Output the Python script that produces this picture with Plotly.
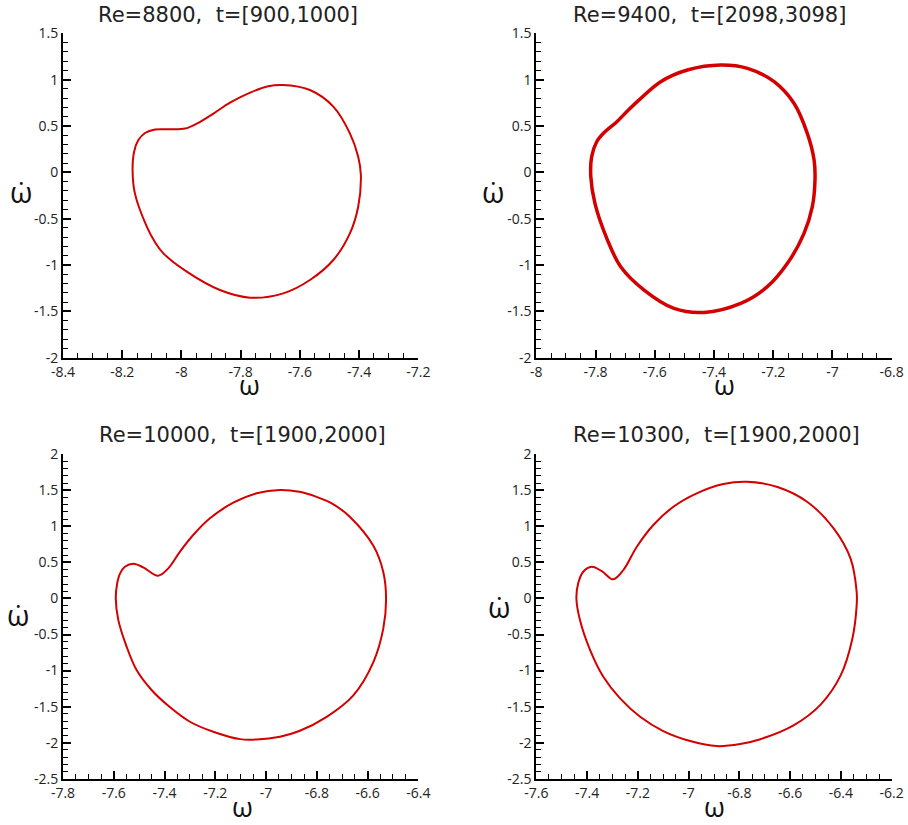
import plotly.graph_objects as go

# ---- data ----
titles = ["Re=8800,  t=[900,1000]", "Re=9400,  t=[2098,3098]",
          "Re=10000,  t=[1900,2000]", "Re=10300,  t=[1900,2000]"]

w1 = [-8.165, -8.160, -8.146, -8.123, -8.089, -8.039, -7.988, -7.948, -7.892, -7.836, -7.768, -7.707,
      -7.658, -7.566, -7.487, -7.431, -7.403, -7.394, -7.403, -7.431, -7.487, -7.566, -7.656, -7.768,
      -7.870, -7.982, -8.061, -8.090, -8.117, -8.157, -8.165]
wd1 = [0.020, 0.220, 0.345, 0.424, 0.461, 0.464, 0.472, 0.526, 0.634, 0.752, 0.860, 0.928,
       0.942, 0.888, 0.709, 0.421, 0.169, -0.029, -0.371, -0.658, -0.946, -1.162, -1.306, -1.353,
       -1.270, -1.072, -0.874, -0.750, -0.586, -0.230, 0.020]

w2 = [-7.816, -7.813, -7.796, -7.768, -7.728, -7.689, -7.650, -7.580, -7.490, -7.377, -7.287, -7.197,
      -7.130, -7.085, -7.062, -7.059, -7.068, -7.096, -7.152, -7.220, -7.310, -7.434, -7.535, -7.636,
      -7.715, -7.762, -7.802, -7.816]
wd2 = [-0.047, 0.169, 0.330, 0.438, 0.546, 0.673, 0.790, 0.978, 1.104, 1.158, 1.122, 0.978,
       0.745, 0.421, 0.133, -0.083, -0.371, -0.658, -0.982, -1.234, -1.414, -1.511, -1.468, -1.270,
       -1.018, -0.712, -0.335, -0.047]

w3 = [-7.592, -7.587, -7.575, -7.556, -7.523, -7.484, -7.425, -7.385, -7.339, -7.287, -7.221, -7.129,
      -7.037, -6.945, -6.869, -6.801, -6.736, -6.669, -6.577, -6.538, -6.527, -6.538, -6.577, -6.656,
      -6.761, -6.869, -6.945, -7.037, -7.103, -7.208, -7.300, -7.378, -7.451, -7.510, -7.549, -7.582,
      -7.592]
wd3 = [0.000, 0.200, 0.349, 0.440, 0.482, 0.432, 0.316, 0.418, 0.650, 0.880, 1.112, 1.328,
       1.459, 1.505, 1.480, 1.410, 1.310, 1.130, 0.730, 0.367, -0.003, -0.419, -0.882, -1.344,
       -1.642, -1.839, -1.917, -1.956, -1.951, -1.849, -1.710, -1.510, -1.270, -0.993, -0.670, -0.300,
       0.000]

w4 = [-7.442, -7.435, -7.415, -7.382, -7.342, -7.297, -7.257, -7.204, -7.139, -7.060, -6.968, -6.863,
      -6.771, -6.650, -6.532, -6.428, -6.362, -6.338, -6.338, -6.355, -6.401, -6.480, -6.585, -6.721,
      -6.797, -6.889, -6.994, -7.100, -7.191, -7.270, -7.336, -7.388, -7.428, -7.442]
wd4 = [0.000, 0.210, 0.371, 0.440, 0.380, 0.265, 0.395, 0.718, 1.019, 1.273, 1.459, 1.588,
       1.620, 1.547, 1.339, 0.969, 0.552, 0.090, -0.095, -0.558, -1.067, -1.472, -1.756, -1.956,
       -2.020, -2.048, -1.978, -1.840, -1.641, -1.386, -1.086, -0.716, -0.300, 0.000]

xtick1 = [-8.4, -8.2, -8.0, -7.8, -7.6, -7.4, -7.2]
xtick2 = [-8.0, -7.8, -7.6, -7.4, -7.2, -7.0, -6.8]
xtick3 = [-7.8, -7.6, -7.4, -7.2, -7.0, -6.8, -6.6, -6.4]
xtick4 = [-7.6, -7.4, -7.2, -7.0, -6.8, -6.6, -6.4, -6.2]
ytickA = [1.5, 1.0, 0.5, 0.0, -0.5, -1.0, -1.5, -2.0]
ytickB = [2.0, 1.5, 1.0, 0.5, 0.0, -0.5, -1.0, -1.5, -2.0, -2.5]


def lab(v):
    return "%g" % v


W, H = 908, 825
FONT = "Open Sans, Noto Sans, sans-serif"
TFONT = "DejaVu Sans, sans-serif"
panels = [
    dict(w=w1, wd=wd1, xt=xtick1, yt=ytickA, x0=63, x1=418.3, y0=33.3, y1=357.7, lw=2,
         title=(228, 15), xt_pos=(250, 384), yt_pos=(21, 192)),
    dict(w=w2, wd=wd2, xt=xtick2, yt=ytickA, x0=536.3, x1=891.7, y0=33.3, y1=357.7, lw=3.5,
         title=(709, 15), xt_pos=(724, 384), yt_pos=(493, 192)),
    dict(w=w3, wd=wd3, xt=xtick3, yt=ytickB, x0=63, x1=418.3, y0=454.3, y1=778.7, lw=2,
         title=(242, 435), xt_pos=(242, 806), yt_pos=(18, 614)),
    dict(w=w4, wd=wd4, xt=xtick4, yt=ytickB, x0=536.3, x1=891.7, y0=454.3, y1=778.7, lw=2,
         title=(716, 435), xt_pos=(714, 806), yt_pos=(499, 606)),
]

fig = go.Figure()
annotations = []
for i, p in enumerate(panels):
    n = "" if i == 0 else str(i + 1)
    fig.add_trace(go.Scatter(x=p["w"], y=p["wd"], mode="lines",
                             line=dict(color="#d40000", width=p["lw"], shape="spline", smoothing=1.0),
                             xaxis="x" + n, yaxis="y" + n, showlegend=False, hoverinfo="skip"))
    axis_common = dict(showline=True, linecolor="black", linewidth=2, mirror=False,
                       showgrid=False, zeroline=False, ticks="inside", ticklen=8, tickwidth=1.5,
                       tickcolor="black", tickfont=dict(family=FONT, size=14, color="#222"),
                       fixedrange=True, automargin=False)
    fig.layout["xaxis" + n] = dict(
        axis_common,
        domain=[p["x0"] / W, p["x1"] / W],
        range=[min(p["xt"]), max(p["xt"])],
        tickvals=p["xt"], ticktext=[lab(v) for v in p["xt"]],
        minor=dict(ticks="inside", dtick=0.05, ticklen=5, tickwidth=1, tickcolor="black"),
        anchor="y" + n,
    )
    fig.layout["yaxis" + n] = dict(
        axis_common,
        domain=[1 - p["y1"] / H, 1 - p["y0"] / H],
        range=[min(p["yt"]), max(p["yt"])],
        tickvals=p["yt"], ticktext=[lab(v) for v in p["yt"]],
        minor=dict(ticks="inside", dtick=0.1, ticklen=5, tickwidth=1, tickcolor="black"),
        anchor="x" + n,
    )
    tx, ty = p["title"]
    annotations.append(dict(text=titles[i], x=tx / W, y=1 - ty / H,
                            xref="paper", yref="paper", showarrow=False,
                            font=dict(family=TFONT, size=21, color="#222"),
                            xanchor="center", yanchor="middle"))
    ax, ay = p["xt_pos"]
    annotations.append(dict(text="ω", x=ax / W, y=1 - ay / H,
                            xref="paper", yref="paper", showarrow=False,
                            font=dict(family=FONT, size=27, color="#111"),
                            xanchor="center", yanchor="middle"))
    bx, by = p["yt_pos"]
    annotations.append(dict(text="ω̇", x=bx / W, y=1 - by / H,
                            xref="paper", yref="paper", showarrow=False,
                            font=dict(family=FONT, size=29, color="#111"),
                            xanchor="center", yanchor="middle"))

fig.update_layout(width=W, height=H, margin=dict(l=0, r=0, t=0, b=0, autoexpand=False),
                  paper_bgcolor="white", plot_bgcolor="white",
                  annotations=annotations)

fig.write_html("out.html", config={"displayModeBar": False},
               post_script="document.body.style.margin='0px';")
